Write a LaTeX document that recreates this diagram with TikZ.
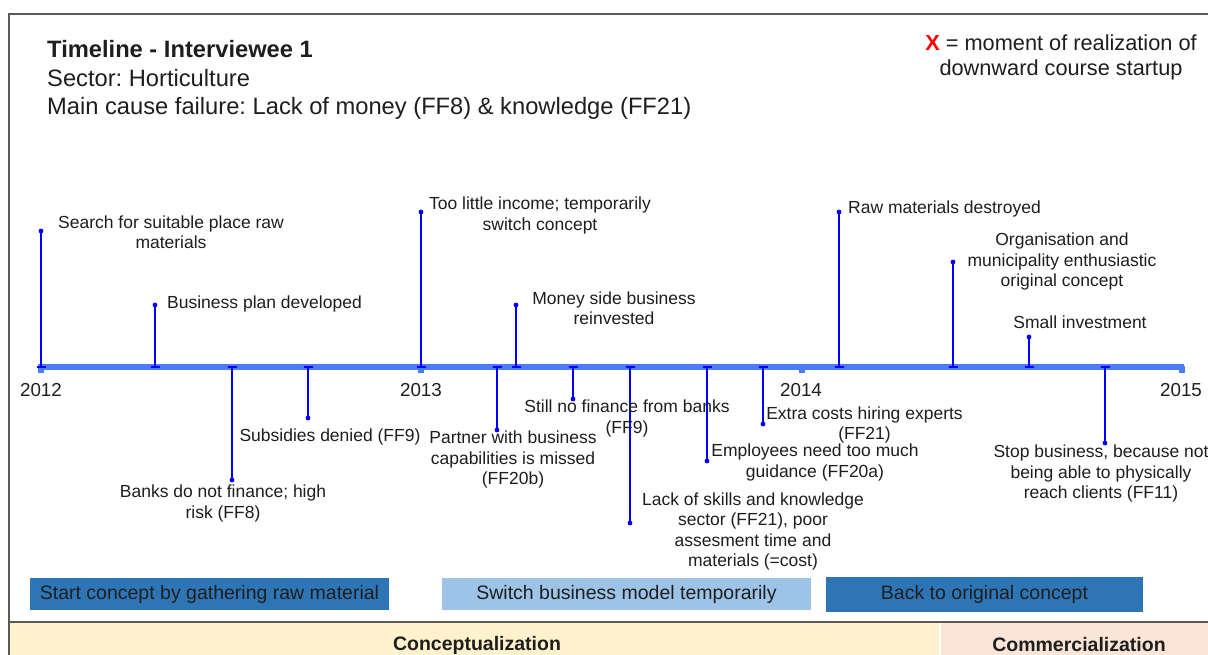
\documentclass[tikz,border=0pt]{standalone}
\usepackage{fontspec}
\setmainfont{Liberation Sans}
\frenchspacing

\definecolor{axisblue}{HTML}{4A7CF4}
\definecolor{stemblue}{HTML}{0000FF}
\definecolor{darkbar}{HTML}{2E75B6}
\definecolor{lightbar}{HTML}{9DC3E6}
\definecolor{bandyellow}{HTML}{FFF2CC}
\definecolor{bandpink}{HTML}{FBE5D6}
\definecolor{framegray}{HTML}{595959}
\definecolor{ink}{HTML}{1E1E1E}
\definecolor{xred}{HTML}{FF0000}

\begin{document}
\begin{tikzpicture}[x=1pt,y=-1pt,
  evlabel/.style={text=ink, align=center, inner sep=0pt, yshift=-1.5pt,
    font=\fontsize{17.5pt}{20.4pt}\selectfont},
  yearlabel/.style={text=ink, inner sep=0pt, yshift=-1pt,
    font=\fontsize{18.8pt}{21pt}\selectfont},
  stemline/.style={draw=stemblue, line width=2.6pt},
  capline/.style={draw=stemblue, line width=2.2pt},
  phasebox/.style={inner sep=0pt, text=ink,
    font=\fontsize{19.5pt}{22pt}\selectfont},
  bandlabel/.style={inner sep=0pt, text=ink,
    font=\bfseries\fontsize{19.5pt}{22pt}\selectfont},
  yeartick/.style={fill=axisblue},
]
\useasboundingbox (0,0) rectangle (1208,655);
\fill[white] (0,0) rectangle (1208,655);

% frame
\draw[framegray, line width=2pt] (8.5,655) -- (8.5,14.5) -- (1208,14.5);

% header
\node[anchor=west, text=ink, align=left, inner sep=0pt,
      font=\fontsize{23.7pt}{28.2pt}\selectfont] (title) at (47,80)
  {\textbf{Timeline - Interviewee 1}\\Sector: Horticulture\\Main cause failure: Lack of money (FF8) \& knowledge (FF21)};
\node[text=ink, align=center, inner sep=0pt,
      font=\fontsize{21.75pt}{25pt}\selectfont] (legend) at (1061,57.5)
  {{\color{xred}\bfseries X} = moment of realization of\\downward course startup};

% time axis
\coordinate (t0) at (38,367);
\coordinate (t1) at (1184,367);
\draw[axisblue, line width=5.5pt] (t0) -- (t1);
\foreach \yx in {41,421,802,1182}
  \fill[yeartick] (\yx-3,366) rectangle (\yx+3,373);
\node[yearlabel] (y2012) at (41,389) {2012};
\node[yearlabel] (y2013) at (421,389) {2013};
\node[yearlabel] (y2014) at (801,389) {2014};
\node[yearlabel] (y2015) at (1181,389) {2015};

% event stems: axis point (a) and free end (e)
\coordinate (a1) at (41,367);   \coordinate (e1) at (41,231);
\coordinate (a2) at (155,367);  \coordinate (e2) at (155,305);
\coordinate (a3) at (421,367);  \coordinate (e3) at (421,212);
\coordinate (a4) at (516,367);  \coordinate (e4) at (516,305);
\coordinate (a5) at (839,367);  \coordinate (e5) at (839,212);
\coordinate (a6) at (953,367);  \coordinate (e6) at (953,262);
\coordinate (a7) at (1029,367); \coordinate (e7) at (1029,337);
\coordinate (a8) at (232,367);  \coordinate (e8) at (232,480);
\coordinate (a9) at (308,367);  \coordinate (e9) at (308,418);
\coordinate (a10) at (497,367); \coordinate (e10) at (497,430);
\coordinate (a11) at (573,367); \coordinate (e11) at (573,399);
\coordinate (a12) at (630,367); \coordinate (e12) at (630,523);
\coordinate (a13) at (707,367); \coordinate (e13) at (707,461);
\coordinate (a14) at (763,367); \coordinate (e14) at (763,424);
\coordinate (a15) at (1105,367);\coordinate (e15) at (1105,443);

\foreach \i in {1,...,15}{
  \draw[stemline] (a\i) -- (e\i);
  \draw[capline] ([xshift=-4.5pt]a\i) -- ([xshift=4.5pt]a\i);
  \fill[stemblue] (e\i) circle[radius=2.4pt];
}

% event labels above the axis
\node[evlabel] (l1) at (171,230.5) {Search for suitable place raw\\materials};
\node[evlabel, anchor=west] (l2) at (167,302) {Business plan developed};
\node[evlabel] (l3) at (540,214) {Too little income; temporarily\\switch concept};
\node[evlabel] (l4) at (614,307) {Money side business\\reinvested};
\node[evlabel, anchor=west] (l5) at (848,207) {Raw materials destroyed};
\node[evlabel] (l6) at (1062,260) {Organisation and\\municipality enthusiastic\\original concept};
\node[evlabel] (l7) at (1080,321) {Small investment};

% event labels below the axis
\node[evlabel] (l8) at (223,502) {Banks do not finance; high\\risk (FF8)};
\node[evlabel] (l9) at (330,435) {Subsidies denied (FF9)};
\node[evlabel] (l10) at (513,458) {Partner with business\\capabilities is missed\\(FF20b)};
\node[evlabel] (l11) at (627,417) {Still no finance from banks\\(FF9)};
\node[evlabel] (l12) at (753,530) {Lack of skills and knowledge\\sector (FF21), poor\\assesment time and\\materials (=cost)};
\node[evlabel] (l13) at (815,461) {Employees need too much\\guidance (FF20a)};
\node[evlabel] (l14) at (864.5,423.5) {Extra costs hiring experts\\(FF21)};
\node[evlabel] (l15) at (1101,472) {Stop business, because not\\being able to physically\\reach clients (FF11)};

% business model phases
\node[phasebox, fill=darkbar, minimum width=359pt, minimum height=32pt] (p1)
  at (209.5,594) {Start concept by gathering raw material};
\node[phasebox, fill=lightbar, minimum width=369pt, minimum height=32pt] (p2)
  at (626.5,594) {Switch business model temporarily};
\node[phasebox, fill=darkbar, minimum width=317pt, minimum height=35pt] (p3)
  at (984.5,594.5) {Back to original concept};

% lifecycle bands
\fill[bandyellow] (9.5,623) rectangle (939,655);
\fill[bandpink] (941,623) rectangle (1208,655);
\draw[framegray, line width=2pt] (8.5,622) -- (1208,622);
\node[bandlabel] (b1) at (477,645) {Conceptualization};
\node[bandlabel] (b2) at (1079,645) {Commercialization};
\end{tikzpicture}
\end{document}
